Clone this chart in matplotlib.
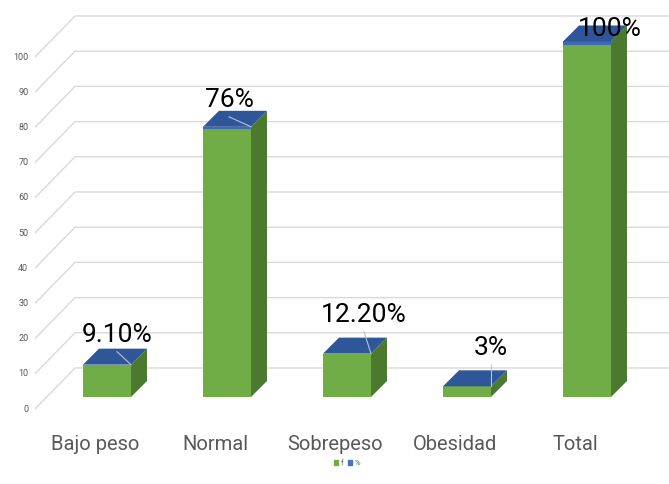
import matplotlib
matplotlib.use("Agg")
import matplotlib.pyplot as plt
from matplotlib.patches import Polygon, Patch

# --- data ---
categories = ["Bajo peso", "Normal", "Sobrepeso", "Obesidad", "Total"]
f_values = [9.1, 76, 12.2, 3, 100]
pct_values = [0.091, 0.76, 0.122, 0.03, 1.0]
pct_labels = ["9.10%", "76%", "12.20%", "3%", "100%"]
y_ticks = [0, 10, 20, 30, 40, 50, 60, 70, 80, 90, 100]

# --- colours ---
GREEN = "#70ad47"
GREEN_SIDE = "#4b7a2f"
BLUE = "#3e69b5"
BLUE_TOP = "#2f5699"
GRID = "#d9d9d9"

# --- fake 3d geometry (category units / value units) ---
PX_X = 120.0          # pixels per category
PX_Y = 3.52           # pixels per value unit
WALL_DX, WALL_DY = 40 / PX_X, 41 / PX_Y
FRONT_DX, FRONT_DY = 12 / PX_X, 12 / PX_Y
DEPTH_DX, DEPTH_DY = 16 / PX_X, 16 / PX_Y
BAR_W = 48 / PX_X

# data labels were dragged by hand in the original: offsets in pixels
# from the front-top centre of each bar
label_off = [(10, 23), (2, 20), (17, 32), (24, 31), (23, 5)]

plt.rcParams["font.family"] = ["Roboto", "DejaVu Sans"]

fig = plt.figure(figsize=(6.69, 4.84), dpi=100)
ax = fig.add_axes([0, 0, 1, 1])
ax.set_xlim(-95 / PX_X, (669 - 95) / PX_X)
ax.set_ylim(-75 / PX_Y, (484 - 75) / PX_Y)
ax.axis("off")

# gridlines: diagonal from the front plane to the back wall, then across
x_left = -0.5
x_right = ax.get_xlim()[1]
for t in y_ticks:
    ax.plot([x_left, x_left + WALL_DX, x_right], [t, t + WALL_DY, t + WALL_DY],
            color=GRID, lw=1, zorder=0, solid_capstyle="butt")
    ax.text(x_left - 0.055, t, str(t), ha="right", va="center",
            fontsize=6.5, color="#595959")

# bars
xs = list(range(len(categories)))
xb = [x + FRONT_DX for x in xs]
ax.bar(xb, f_values, width=BAR_W, bottom=FRONT_DY, color=GREEN,
       label="f", zorder=2)
ax.bar(xb, pct_values, width=BAR_W,
       bottom=[FRONT_DY + v for v in f_values], color=BLUE,
       label="%", zorder=2)

for i, x in enumerate(xb):
    xl, xr = x - BAR_W / 2, x + BAR_W / 2
    b = FRONT_DY
    t = FRONT_DY + f_values[i] + pct_values[i]
    side = Polygon([(xr, b), (xr, t), (xr + DEPTH_DX, t + DEPTH_DY),
                    (xr + DEPTH_DX, b + DEPTH_DY)],
                   closed=True, facecolor=GREEN_SIDE, edgecolor="none", zorder=2)
    top = Polygon([(xl, t), (xr, t), (xr + DEPTH_DX, t + DEPTH_DY),
                   (xl + DEPTH_DX, t + DEPTH_DY)],
                  closed=True, facecolor=BLUE_TOP, edgecolor="none", zorder=2)
    ax.add_patch(side)
    ax.add_patch(top)

    dx, dy = label_off[i]
    lx = x + dx / PX_X
    ly = t + dy / PX_Y
    if dy > 10:
        ax.plot([lx, xr], [ly - 10 / PX_Y, t], color="#b4c4da", lw=0.8, zorder=3)
    ax.text(lx, ly, pct_labels[i], ha="center", va="baseline",
            fontsize=19, color="black", zorder=4)

# category labels
for x, name in zip(xs, categories):
    ax.text(x, -35 / PX_Y, name, ha="center", va="center",
            fontsize=14.5, color="#595959")

handles = [Patch(color=GREEN, label="f"), Patch(color="#4472c4", label="%")]
ax.legend(handles=handles, loc="center", bbox_to_anchor=(347 / 669, 1 - 463 / 484),
          ncol=2, frameon=False, fontsize=5.5, handlelength=0.6, handleheight=0.6,
          handletextpad=0.3, columnspacing=0.6, labelcolor="#595959")

fig.savefig("out.png", dpi=100)
